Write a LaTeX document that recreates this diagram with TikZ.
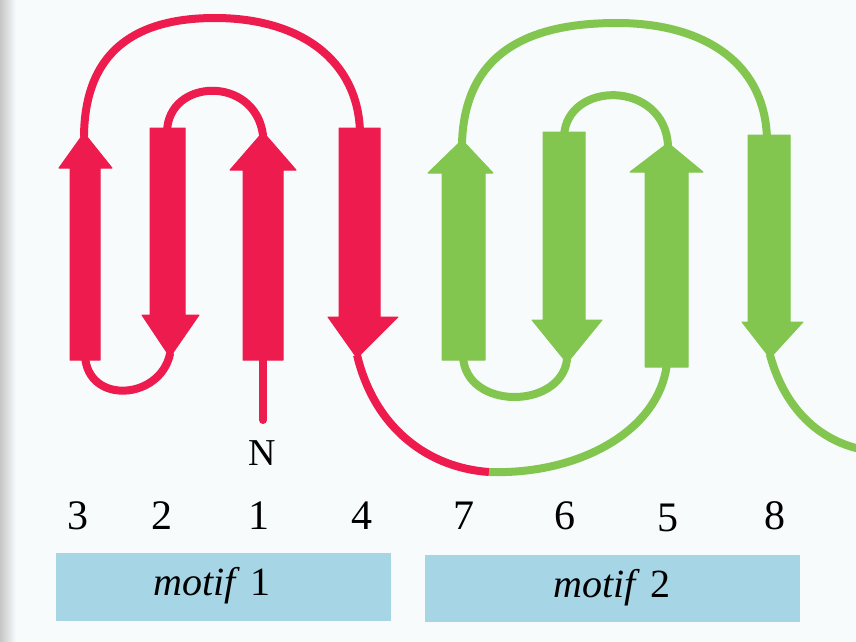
\documentclass[tikz,border=0pt]{standalone}
\usepackage{fontspec}
\setmainfont{Liberation Serif}
\definecolor{strandred}{RGB}{238,28,78}
\definecolor{strandgreen}{RGB}{130,198,80}
\definecolor{motifblue}{RGB}{166,213,230}
\definecolor{paper}{RGB}{247,251,252}
\tikzset{
    redstrand/.style={fill=strandred, draw=strandred, line width=1pt, line join=round},
    greenstrand/.style={fill=strandgreen, draw=strandgreen, line width=1pt, line join=round},
    redloop/.style={draw=strandred, line width=8pt, line cap=round},
    greenloop/.style={draw=strandgreen, line width=8pt, line cap=round},
    numlabel/.style={font=\fontsize{42}{48}\selectfont, inner sep=0pt},
    motifbox/.style={fill=motifblue, draw=none}
}
\begin{document}
\begin{tikzpicture}[x=1pt, y=-1pt]
            \useasboundingbox (0,0) rectangle (856,642);
            \fill[paper] (0,0) rectangle (856,642);
            \fill[left color=gray!45, right color=paper] (0,0) rectangle (16,642);
            % strand ends
            \coordinate (t3) at (84,136);
            \coordinate (b3) at (85,356);
            \coordinate (t2) at (167,132);
            \coordinate (b2) at (170,354);
            \coordinate (t1) at (263,135);
            \coordinate (b1) at (263,356);
            \coordinate (t4) at (360,132);
            \coordinate (b4) at (357,355);
            \coordinate (t7) at (462,143);
            \coordinate (b7) at (463,356);
            \coordinate (t6) at (564,136);
            \coordinate (b6) at (567,360);
            \coordinate (t5) at (668,146);
            \coordinate (b5) at (667,363);
            \coordinate (t8) at (767,139);
            \coordinate (b8) at (770,355);
            \coordinate (nend) at (263,420);
            \coordinate (join) at (489,472);
            \coordinate (cend) at (860,449);
            % red loops
            \draw[redloop] (t3) .. controls (85,40) and (150,18) .. (215,18) .. controls (300,18) and (358,60) .. (t4);
            \draw[redloop] (t2) .. controls (168,78) and (255,75) .. (t1);
            \draw[redloop] (b3) .. controls (88,405) and (160,400) .. (b2);
            \draw[redloop] (b1) -- (nend);
            \draw[redloop, line cap=butt] (b4) .. controls (375,430) and (430,468) .. (join);
            % green loops
            \draw[greenloop, line cap=butt] (join) .. controls (580,475) and (660,430) .. (b5);
            \draw[greenloop] (b7) .. controls (465,410) and (560,410) .. (b6);
            \draw[greenloop] (t6) .. controls (567,80) and (665,80) .. (t5);
            \draw[greenloop] (t7) .. controls (465,45) and (540,23) .. (617,23) .. controls (700,23) and (765,60) .. (t8);
            \draw[greenloop] (b8) .. controls (785,410) and (820,440) .. (cend);
            % red strands
            \filldraw[redstrand]
            (70,360) -- (70,168) -- (59,168) -- (84,133) -- (112,168) -- (100,168) -- (100,360) -- cycle;
            \filldraw[redstrand]
            (150,128) -- (150,315) -- (142,315) -- (170,357) -- (199,315) -- (185,315) -- (185,128) -- cycle;
            \filldraw[redstrand]
            (243,360) -- (243,170) -- (230,170) -- (263,132) -- (296,170) -- (283,170) -- (283,360) -- cycle;
            \filldraw[redstrand]
            (339,128) -- (339,317) -- (328,317) -- (357,358) -- (398,317) -- (380,317) -- (380,128) -- cycle;
            % green strands
            \filldraw[greenstrand]
            (442,360) -- (442,173) -- (428,173) -- (462,140) -- (493,173) -- (485,173) -- (485,360) -- cycle;
            \filldraw[greenstrand]
            (543,132) -- (543,320) -- (532,320) -- (567,363) -- (602,320) -- (585,320) -- (585,132) -- cycle;
            \filldraw[greenstrand]
            (645,367) -- (645,172) -- (630,172) -- (668,143) -- (703,172) -- (688,172) -- (688,367) -- cycle;
            \filldraw[greenstrand]
            (748,135) -- (748,322) -- (742,322) -- (770,358) -- (803,322) -- (790,322) -- (790,135) -- cycle;
            % labels
            \node[numlabel, font=\fontsize{38}{44}\selectfont] (nterm) at (262,453) {N};
            \node[numlabel] (n3) at (78,516) {3};
            \node[numlabel] (n2) at (162,516) {2};
            \node[numlabel] (n1) at (259,516) {1};
            \node[numlabel] (n4) at (362,516) {4};
            \node[numlabel] (n7) at (464,516) {7};
            \node[numlabel] (n6) at (565,516) {6};
            \node[numlabel] (n5) at (668,518) {5};
            \node[numlabel] (n8) at (775,516) {8};
            \fill[motifbox] (56,553) rectangle (391,621);
            \fill[motifbox] (425,555) rectangle (800,622);
            \node[numlabel, font=\fontsize{40}{46}\selectfont] (motif1) at (212,586) {\textit{motif} 1};
            \node[numlabel, font=\fontsize{40}{46}\selectfont] (motif2) at (612,588) {\textit{motif} 2};
\end{tikzpicture}
\end{document}
